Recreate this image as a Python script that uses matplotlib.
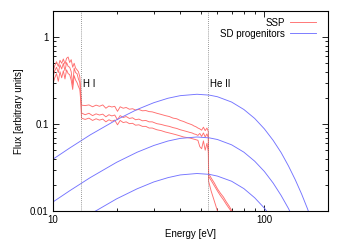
import matplotlib
matplotlib.use("Agg")
import matplotlib.pyplot as plt
from matplotlib.ticker import LogLocator, NullFormatter, FixedLocator, FixedFormatter

plt.rcParams['font.family'] = ['Liberation Sans', 'DejaVu Sans']

# SSP spectra (three ages), flux
ssp_energy = [10.0, 10.2, 10.4, 10.6, 10.8, 11.0, 11.2, 11.4, 11.6, 11.8, 12.0, 12.2, 12.4,
              12.6, 12.8, 13.0, 13.2, 13.4, 13.55,
              13.65, 14.2, 14.8, 15.4, 16.0, 16.6, 17.2, 17.8, 18.4, 19.0, 19.6, 20.2, 20.8,
              21.5, 22.2, 23.0, 23.8, 24.6, 25.5, 26.5, 27.5, 28.5, 29.5, 31.0, 32.5, 34.0,
              35.5, 37.0, 38.5, 40.0, 41.5, 43.0, 44.5, 45.5, 46.5, 47.5, 48.5, 49.5, 50.5,
              51.5, 52.5, 53.5, 54.3,
              54.5, 56, 58, 60, 62, 64, 66, 68, 70, 72, 74]
ssp_top = [0.40, 0.47, 0.52, 0.46, 0.54, 0.50, 0.56, 0.49, 0.57, 0.59, 0.51, 0.55, 0.45,
           0.50, 0.44, 0.42, 0.40, 0.35, 0.24,
           0.165, 0.163, 0.166, 0.158, 0.165, 0.160, 0.166, 0.152, 0.161, 0.157, 0.160, 0.140,
           0.158, 0.152, 0.155, 0.148, 0.150, 0.145, 0.147, 0.142, 0.143, 0.139, 0.138, 0.133,
           0.129, 0.125, 0.122, 0.117, 0.115, 0.110, 0.107, 0.103, 0.100, 0.098, 0.095, 0.093,
           0.090, 0.088, 0.085, 0.092, 0.084, 0.090, 0.082,
           0.027, 0.024, 0.021, 0.018, 0.016, 0.0145, 0.0128, 0.0115, 0.0102, 0.0092, 0.0082]
ssp_mid = [0.35, 0.41, 0.45, 0.39, 0.48, 0.43, 0.50, 0.41, 0.51, 0.46, 0.45, 0.40, 0.28,
           0.44, 0.39, 0.38, 0.33, 0.30, 0.20,
           0.134, 0.128, 0.133, 0.125, 0.131, 0.127, 0.130, 0.121, 0.128, 0.124, 0.127, 0.112,
           0.125, 0.119, 0.122, 0.116, 0.118, 0.112, 0.114, 0.109, 0.110, 0.106, 0.106, 0.101,
           0.099, 0.096, 0.094, 0.091, 0.089, 0.086, 0.084, 0.082, 0.080, 0.079, 0.077, 0.076,
           0.074, 0.078, 0.072, 0.079, 0.071, 0.077, 0.070,
           0.025, 0.0225, 0.0195, 0.0170, 0.0150, 0.0135, 0.0120, 0.0108, 0.0098, 0.0088, 0.0079]
ssp_low = [0.29, 0.34, 0.38, 0.31, 0.40, 0.34, 0.41, 0.33, 0.42, 0.38, 0.37, 0.32, 0.25,
           0.36, 0.32, 0.30, 0.27, 0.25, 0.18,
           0.117, 0.113, 0.117, 0.110, 0.115, 0.111, 0.114, 0.106, 0.112, 0.108, 0.111, 0.098,
           0.110, 0.104, 0.106, 0.101, 0.102, 0.097, 0.098, 0.094, 0.094, 0.090, 0.090, 0.086,
           0.084, 0.081, 0.079, 0.077, 0.075, 0.073, 0.071, 0.070, 0.069, 0.068, 0.067, 0.066,
           0.065, 0.055, 0.052, 0.064, 0.050, 0.060, 0.048,
           0.022, 0.017, 0.0130, 0.0100, 0.0078, 0.0062, 0.0050, 0.0040, 0.0032, 0.0026, 0.0021]

# SD progenitor spectra
sd_energy = [10, 12, 15, 20, 25, 30, 35, 40, 48, 55, 60, 70, 80, 90, 100, 110, 120, 130,
             140, 150, 160, 170, 180]
sd_high = [0.0394, 0.053, 0.075, 0.112, 0.147, 0.176, 0.198, 0.212, 0.220, 0.215, 0.206,
           0.179, 0.147, 0.116, 0.088, 0.065, 0.047, 0.033, 0.0229, 0.0157, 0.0106, 0.0070,
           0.0046]
sd_mid = [0.0127, 0.0171, 0.0242, 0.0363, 0.0474, 0.0567, 0.0638, 0.0684, 0.071, 0.0693,
          0.0664, 0.0577, 0.0475, 0.0374, 0.0285, 0.0210, 0.0151, 0.0107, 0.0074, 0.0051,
          0.0034, 0.0023, 0.0015]
sd_low = [0.0050, 0.0069, 0.0092, 0.0138, 0.0180, 0.0216, 0.0242, 0.0260, 0.027, 0.0264,
          0.0252, 0.0220, 0.0181, 0.0142, 0.0108, 0.0080, 0.0058, 0.0041, 0.0028, 0.0019,
          0.0013, 0.0009, 0.0006]

edges = [13.6, 54.4]
edge_names = ["H I", "He II"]

fig = plt.figure(figsize=(3.46, 2.42), dpi=100)
ax = fig.add_axes([0.153, 0.128, 0.795, 0.827])

red = '#ff6e6e'
blue = '#7474ff'
lw = 0.65

ax.plot(ssp_energy, ssp_top, color=red, lw=lw, label='SSP')
ax.plot(ssp_energy, ssp_mid, color=red, lw=lw)
ax.plot(ssp_energy, ssp_low, color=red, lw=lw)

ax.plot(sd_energy, sd_high, color=blue, lw=lw, label='SD progenitors')
ax.plot(sd_energy, sd_mid, color=blue, lw=lw)
ax.plot(sd_energy, sd_low, color=blue, lw=lw)

for e, name in zip(edges, edge_names):
    ax.axvline(e, color='#777777', lw=0.6, ls=(0, (1, 1.5)))
    ax.text(e * 1.02, 0.29, name, fontsize=7, va='center', ha='left')

ax.set_xscale('log')
ax.set_yscale('log')
ax.set_xlim(10, 200)
ax.set_ylim(0.01, 2)

ax.xaxis.set_major_locator(FixedLocator([10, 100]))
ax.xaxis.set_major_formatter(FixedFormatter(['10', '100']))
ax.xaxis.set_minor_locator(LogLocator(base=10, subs=range(2, 10)))
ax.xaxis.set_minor_formatter(NullFormatter())
ax.yaxis.set_major_locator(FixedLocator([0.01, 0.1, 1]))
ax.yaxis.set_major_formatter(FixedFormatter(['0.01', '0.1', '1']))
ax.yaxis.set_minor_locator(LogLocator(base=10, subs=range(2, 10)))
ax.yaxis.set_minor_formatter(NullFormatter())

ax.tick_params(which='both', direction='in', top=True, right=True, labelsize=7, width=0.6)
ax.tick_params(which='major', length=4, pad=3)
ax.tick_params(which='minor', length=2)
for s in ax.spines.values():
    s.set_linewidth(0.8)

ax.set_xlabel('Energy [eV]', fontsize=7, labelpad=3)
ax.set_ylabel('Flux [arbitrary units]', fontsize=7, labelpad=4)

ax.legend(loc='upper right', bbox_to_anchor=(0.98, 1.0), frameon=False, fontsize=7,
          markerfirst=False, handlelength=2.6, handletextpad=0.6, labelspacing=0.1,
          borderaxespad=0.3)

fig.savefig('out.png', dpi=100)
